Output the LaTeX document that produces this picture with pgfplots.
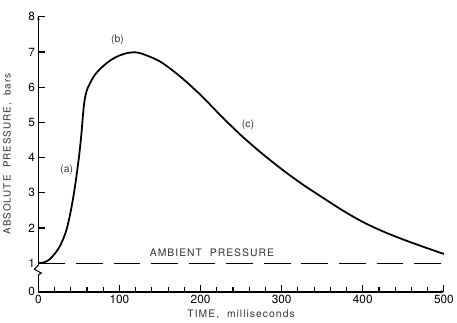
\documentclass[border=0pt]{standalone}
\usepackage{fontspec}
\setmainfont{TeX Gyre Heros}
\newfontfamily\lsfont[LetterSpace=10]{TeX Gyre Heros}
\usepackage{pgfplots}
\pgfplotsset{compat=1.18}
\begin{document}
\begin{tikzpicture}
\begin{axis}[
  scale only axis,
  width=410bp, height=278bp,
  xmin=0, xmax=500,
  ymin=0.185, ymax=8,
  axis lines=left,
  xtick={0,100,...,500},
  minor xtick={20,40,...,480},
  ytick={0.185,1,2,3,4,5,6,7,8},
  yticklabels={0,1,2,3,4,5,6,7,8},
  tick align=inside,
  major tick length=7bp,
  minor tick length=5bp,
  tick style={black, line width=1.2pt},
  tick label style={font=\fontsize{12}{13}\selectfont},
  /pgf/number format/assume math mode=true,
]
\addplot[line width=1.8pt, black, smooth, tension=0.5] coordinates {
(0,1.0) (5,1.01) (10,1.05) (15,1.13) (20,1.26) (25,1.42) (30,1.65) (35,1.97)
(40,2.48) (45,3.15) (50,4.0) (53,4.65) (56,5.45) (59,5.85) (63,6.08) (70,6.36)
(80,6.6) (90,6.78) (100,6.9) (112,6.98) (125,6.97) (150,6.73) (175,6.30)
(200,5.78) (225,5.19) (250,4.63) (275,4.13) (300,3.67) (325,3.25) (350,2.87)
(375,2.50) (400,2.17) (425,1.90) (450,1.67) (475,1.46) (500,1.26)
};
\addplot[line width=1.3pt, black, dash pattern=on 27bp off 11bp] coordinates {(0,0.98) (500,0.98)};
\node[font=\lsfont\fontsize{10.5}{12}\selectfont, text=black!80, anchor=base] at (axis cs:214,1.18) {AMBIENT\ \ PRESSURE};
\node[font=\fontsize{10.5}{12}\selectfont, text=black!80] at (axis cs:35,3.64) {(a)};
\node[font=\fontsize{10.5}{12}\selectfont, text=black!80] at (axis cs:97.5,7.35) {(b)};
\node[font=\fontsize{10.5}{12}\selectfont, text=black!80] at (axis cs:258.5,4.93) {(c)};
\coordinate (b1) at (axis cs:0,0.945);
\coordinate (b2) at (axis cs:0,0.82);
\coordinate (b3) at (axis cs:0,0.72);
\coordinate (b4) at (axis cs:0,0.66);
\coordinate (xl) at (axis cs:250,0.185);
\coordinate (yl) at (axis cs:0,4.1);
\coordinate (ll) at (rel axis cs:0,0);
\coordinate (ur) at (rel axis cs:1,1);
\end{axis}
% heavier axis lines
\draw[line width=1.3pt, black] (ll |- ur) -- (ll) -- (ll -| ur);
% axis break
\draw[line width=4pt, white] (b4) -- (b1);
\draw[line width=1.1pt, black] (b1) -- ([xshift=-4bp]b2) -- ([xshift=3bp]b3) -- (b4);
\node[font=\lsfont\fontsize{10.5}{12}\selectfont, text=black!80] at ([yshift=-23bp]xl) {TIME,\ \ milliseconds};
\node[font=\lsfont\fontsize{10}{12}\selectfont, text=black!80, rotate=90] at ([xshift=-31bp]yl) {ABSOLUTE\ \ PRESSURE,\ \ bars};
\path ([xshift=-37bp,yshift=-27bp]ll) rectangle ([xshift=10bp,yshift=17bp]ur);
\end{tikzpicture}
\end{document}
